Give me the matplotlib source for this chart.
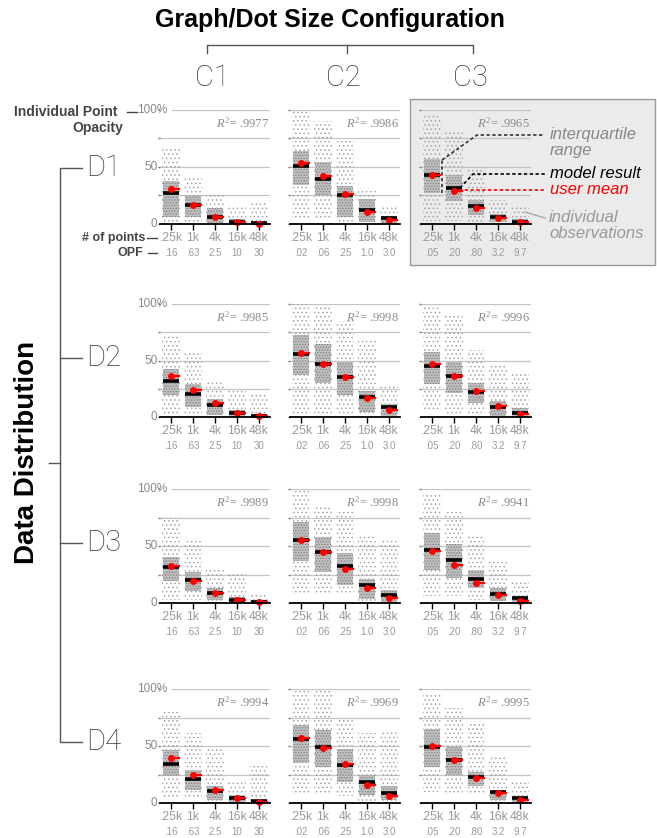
import matplotlib
matplotlib.use('Agg')
import matplotlib.pyplot as plt
from matplotlib.patches import Rectangle
from matplotlib.lines import Line2D

plt.rcParams['font.family'] = ['Liberation Sans', 'DejaVu Sans']
plt.rcParams['mathtext.fontset'] = 'custom'
plt.rcParams['mathtext.rm'] = 'Liberation Serif'
plt.rcParams['mathtext.it'] = 'Liberation Serif:italic'
plt.rcParams['hatch.linewidth'] = 0.6

# ---------------- data ----------------
rows = ['D1', 'D2', 'D3', 'D4']
cols = ['C1', 'C2', 'C3']
n_points = ['.25k', '1k', '4k', '16k', '48k']
opf = [['.16', '.63', '2.5', '10', '30'],
       ['.02', '.06', '.25', '1.0', '3.0'],
       ['.05', '.20', '.80', '3.2', '9.7']]
r2 = [['.9977', '.9986', '.9965'],
      ['.9985', '.9998', '.9996'],
      ['.9989', '.9998', '.9941'],
      ['.9994', '.9969', '.9995']]

# interquartile range (lower / upper), model result (median) and user mean, in %
q1 = [[[6, 6.5, 1.2, 0, 0], [33.9, 24.3, 6.4, 2, 1.2], [27.2, 20, 7.8, 1.4, 0]],
      [[19.2, 9.2, 1.5, 0, 0], [37, 30, 19.5, 4.4, 0.6], [29.2, 21.3, 12.5, 0.9, 0]],
      [[19.3, 10.7, 2.6, 0, 0], [37.1, 27.5, 16, 3.5, 0], [29.2, 21.9, 13.1, 1.5, 0]],
      [[23.4, 11.1, 2.9, 0, 0], [34.8, 31.9, 18.8, 7.2, 2.9], [31.3, 24.6, 14.5, 2.9, 0]]]
q3 = [[[37.7, 24.3, 14, 4, 2], [64.3, 54.2, 33.3, 22.3, 7], [57.1, 42.6, 20.9, 8.7, 4]],
      [[42.3, 29, 15.7, 6.2, 2.4], [72.9, 65, 48.7, 23.3, 11.7], [57.7, 49, 30, 14, 8]],
      [[40, 27, 13.5, 5.5, 2.6], [71, 58, 43.5, 20.9, 11], [61.8, 51.9, 28.6, 13.1, 5.8]],
      [[46.2, 29.2, 14.6, 7.3, 2.9], [68.1, 63.8, 47, 24.6, 14.5], [65.2, 48.7, 27.5, 11.6, 5.8]]]
model = [[[27.3, 16.3, 6.5, 2, 0.6], [51.3, 39.4, 25.8, 11.9, 5.2], [42.6, 31.6, 15.9, 6.1, 1.7]],
         [[32, 20.1, 10.4, 3.3, 0.9], [55.4, 46.6, 35, 17.5, 8.7], [45.2, 35.9, 21.9, 9, 3.8]],
         [[31.7, 20.2, 9.2, 2.6, 0.9], [55.7, 45, 32.5, 15.4, 7], [46.6, 37.3, 21.3, 8.2, 4.1]],
         [[34.5, 21, 10.2, 4.1, 1.8], [55.9, 48.7, 33.3, 18.8, 8.7], [49.3, 37.7, 23.2, 9.6, 4.3]]]
user_mean = [[[30.3, 16.3, 6.2, 1.5, 0.3], [53.3, 42, 26.4, 10.7, 3.8], [42.6, 29.3, 14.2, 4.9, 1.4]],
             [[36.4, 23.7, 12.1, 3.8, 0.6], [56.3, 46.9, 35, 16.6, 5.8], [46.9, 36.4, 22.7, 9.3, 2.3]],
             [[32.3, 19.3, 9.2, 2.9, 0.9], [55.1, 44.3, 29.9, 13, 4.6], [46, 32.9, 17.5, 6.7, 1.7]],
             [[39.2, 24.3, 11.7, 4.7, 1.2], [56.8, 48.1, 34.5, 15.9, 5.8], [49.9, 37.7, 22.3, 8.7, 2.9]]]
# spread of the individual observations
obs_lo = [[[1, 1, 0.5, 0.3, 0.3], [5, 5, 2, 1, 0.5], [3, 3, 1, 0.5, 0.3]],
          [[3, 1, 0.5, 0.3, 0.3], [3, 3, 3, 1, 0.5], [5, 2, 2, 0.5, 0.3]],
          [[3, 3, 1, 0.3, 0.3], [7, 7, 7, 1, 0.5], [6, 6, 3, 0.5, 0.3]],
          [[5, 5, 2, 0.3, 0.3], [9, 9, 6, 1, 0.5], [10, 7, 7, 1, 0.3]]]
obs_hi = [[[66, 40, 27, 15, 18], [99, 90, 73, 32, 15], [96, 82, 50, 21, 17]],
          [[72, 57, 33, 25, 20], [100, 99, 85, 68, 28], [98, 90, 59, 46, 40]],
          [[75, 54, 31, 25, 9], [98, 85, 80, 59, 56], [95, 80, 60, 38, 20]],
          [[80, 61, 47, 20, 35], [98, 98, 75, 61, 64], [96, 83, 71, 41, 20]]]

# ---------------- figure ----------------
W, H = 657, 838
fig = plt.figure(figsize=(W / 100, H / 100), dpi=100)
LIGHT = dict(family=['Roboto', 'Liberation Sans'], fontweight='light')


def ftext(x, y, s, **kw):
    fig.text(x / W, 1 - y / H, s, **kw)


def fline(xs, ys, **kw):
    fig.add_artist(Line2D([x / W for x in xs], [1 - y / H for y in ys],
                          transform=fig.transFigure, **kw))


# grey legend panel behind D1/C3
fig.patches.append(Rectangle((410 / W, 1 - 265 / H), 245 / W, 166 / H,
                             transform=fig.transFigure, facecolor='#ebebeb',
                             edgecolor='#9a9a9a', lw=1, zorder=-1))

col_left = [160, 290, 421]
row_top = [110, 304, 489, 689]
row_base = [224, 417, 603, 803]
ax_w = 110
bw = 0.36

for r in range(4):
    for c in range(3):
        top, base = row_top[r], row_base[r]
        h = base - top
        ax = fig.add_axes([col_left[c] / W, 1 - base / H, ax_w / W, h / H])
        ax.set_xlim(-0.5, 4.5)
        ax.set_ylim(0, 100)
        ax.patch.set_visible(False)
        for s in ['top', 'right', 'left']:
            ax.spines[s].set_visible(False)
        ax.spines['bottom'].set_linewidth(1.3)
        ax.spines['bottom'].set_zorder(7)
        ax.set_yticks([0, 25, 50, 75, 100])
        ax.tick_params(axis='y', length=1.5, width=1, color='#777', labelleft=False)
        ax.set_xticks(range(5))
        ax.set_xticklabels([])
        ax.tick_params(axis='x', length=4, width=1, color='black')
        for g in [25, 50, 75, 100]:
            xmin = 0.11 if (c == 0 and g == 100) else 0
            ax.axhline(g, xmin=xmin, color='#c4c4c4', lw=0.9, zorder=0)

        if c == 0:
            ax.text(-0.18, 100, '100%', ha='right', va='center', color='#888', fontsize=8.5)
            ax.text(-0.62, 50, '50', ha='right', va='center', color='#888', fontsize=8.5)
            ax.text(-0.62, 0, '0', ha='right', va='center', color='#888', fontsize=8.5)

        ax.text(4.45, 88, r'$R^2$= ' + r2[r][c], ha='right', va='center',
                family='Liberation Serif', color='#8a8a8a', fontsize=9)

        for i in range(5):
            ax.text(i, -14 / h, n_points[i], transform=ax.get_xaxis_transform(),
                    ha='center', va='center', color='#9a9a9a', fontsize=8.8)
            ax.text(i, -29 / h, opf[c][i], transform=ax.get_xaxis_transform(),
                    ha='center', va='center', color='#9a9a9a', fontsize=7)

            lo, hi = obs_lo[r][c][i], obs_hi[r][c][i]
            ax.add_patch(Rectangle((i - 0.43, lo), 0.86, hi - lo, fill=False,
                                   edgecolor='#a4a4a4', lw=0, hatch='....', zorder=1))
            b0, b1 = q1[r][c][i], q3[r][c][i]
            ax.add_patch(Rectangle((i - bw, b0), 2 * bw, b1 - b0,
                                   facecolor='#bfbfbf', edgecolor='none', zorder=2))
            ax.add_patch(Rectangle((i - bw, b0), 2 * bw, b1 - b0, fill=False,
                                   edgecolor='#808080', lw=0, hatch='......', zorder=3))
            m = model[r][c][i]
            ax.plot([i - bw, i + bw], [m, m], color='black', lw=2.6,
                    solid_capstyle='butt', zorder=4, clip_on=False)
            u = user_mean[r][c][i]
            ax.plot([i, i + bw], [u, u], color='red', lw=1.6, zorder=5, clip_on=False)
            ax.plot(i, u, 'o', color='red', ms=5, mec='none', zorder=6, clip_on=False)

# ---------------- headers and brackets ----------------
ftext(330, 20, 'Graph/Dot Size Configuration', ha='center', va='center',
      fontsize=18, fontweight='bold', color='black')
fline([207, 207, 473, 473], [53, 45, 45, 53], color='#555', lw=1)
fline([347, 347], [45, 53], color='#555', lw=1)
for x, lab in zip([212, 343, 470], cols):
    ftext(x, 78, lab, ha='center', va='center', fontsize=21, color='#3c3c3c', **LIGHT)

fline([82, 60, 60, 82], [168, 168, 742, 742], color='#555', lw=1)
fline([60, 82], [358, 358], color='#555', lw=1)
fline([60, 82], [543, 543], color='#555', lw=1)
fline([49, 60], [463, 463], color='#555', lw=1)
for y, lab in zip([168, 358, 543, 742], rows):
    ftext(86, y, lab, ha='left', va='center', fontsize=21, color='#3c3c3c', **LIGHT)
ftext(27, 452, 'Data Distribution', ha='center', va='center', rotation=90,
      fontsize=20, fontweight='bold', color='black')

ftext(118, 112, 'Individual Point', ha='right', va='center', fontsize=10,
      fontweight='bold', color='#444')
ftext(123, 128, 'Opacity', ha='right', va='center', fontsize=10,
      fontweight='bold', color='#444')
fline([127, 137], [112, 112], color='#444', lw=1)
ftext(145, 238, '# of points', ha='right', va='center', fontsize=9,
      fontweight='bold', color='#444')
fline([147, 157], [238, 238], color='#444', lw=1)
ftext(143, 253, 'OPF', ha='right', va='center', fontsize=9,
      fontweight='bold', color='#444')
fline([148, 157], [253, 253], color='#444', lw=1)

# ---------------- legend annotations ----------------
fline([442, 442], [193, 160], color='#333', lw=1.2, ls=(0, (2, 1.5)))
fline([442, 477, 543], [160, 135, 135], color='#333', lw=1.2, ls=(0, (2, 1.5)))
fline([460, 473, 545], [188, 174, 174], color='black', lw=1.2, ls=(0, (2, 1.5)))
fline([453, 545], [190, 190], color='red', lw=1.2, ls=(0, (2, 1.5)))
fline([525, 545], [212, 218], color='#aaa', lw=1)
ftext(550, 135, 'interquartile', ha='left', va='center', fontsize=12, style='italic', color='#888')
ftext(550, 151, 'range', ha='left', va='center', fontsize=12, style='italic', color='#888')
ftext(550, 173, 'model result', ha='left', va='center', fontsize=12, style='italic', color='black')
ftext(550, 190, 'user mean', ha='left', va='center', fontsize=12, style='italic', color='red')
ftext(549, 218, 'individual', ha='left', va='center', fontsize=12, style='italic', color='#999')
ftext(549, 234, 'observations', ha='left', va='center', fontsize=12, style='italic', color='#999')

plt.savefig('out.png', dpi=100)
